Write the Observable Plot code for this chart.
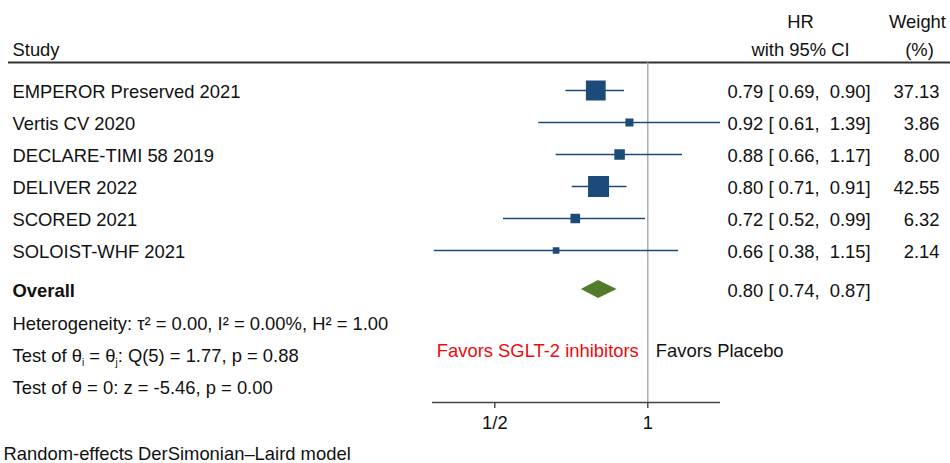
<!DOCTYPE html>
<html>
<head>
<meta charset="utf-8">
<script src="https://cdn.jsdelivr.net/npm/d3@7"></script>
<script src="https://cdn.jsdelivr.net/npm/@observablehq/plot@0.6"></script>
<style>
  html, body { margin: 0; padding: 0; background: #fff; }
</style>
</head>
<body>
<div id="chart"></div>
<script>
// ---- data ----
const studies = ["EMPEROR Preserved 2021", "Vertis CV 2020", "DECLARE-TIMI 58 2019", "DELIVER 2022", "SCORED 2021", "SOLOIST-WHF 2021"];
const hr      = [0.79, 0.92, 0.88, 0.80, 0.72, 0.66];
const ciLow   = [0.69, 0.61, 0.66, 0.71, 0.52, 0.38];
const ciHigh  = [0.90, 1.39, 1.17, 0.91, 0.99, 1.15];
const weights = [37.13, 3.86, 8.00, 42.55, 6.32, 2.14];
const overallLabel = "Overall";
const overallHR = 0.80, overallLow = 0.74, overallHigh = 0.87;
const statLines = [
  "Heterogeneity: τ² = 0.00, I² = 0.00%, H² = 1.00",
  "Test of θᵢ = θⱼ: Q(5) = 1.77, p = 0.88",
  "Test of θ = 0: z = -5.46, p = 0.00"
];
const favorsLeft = "Favors SGLT-2 inhibitors";
const favorsRight = "Favors Placebo";
const tickValues = [0.5, 1];
const tickLabels = ["1/2", "1"];
const footnote = "Random-effects DerSimonian–Laird model";

// ---- layout (row units) ----
const W = 950, H = 463;
const FS = 18.4;
const font = "'Liberation Sans', Arial, Helvetica, sans-serif";
const blue = "#1c4b79", green = "#527a2b";
const fmt = v => v.toFixed(2);
const ciText = (h, l, u) => `${fmt(h)} [ ${fmt(l)},  ${fmt(u)}]`;

const rows = studies.map((s, i) => ({
  study: s, hr: hr[i], lo: ciLow[i], hi: ciHigh[i], w: weights[i], row: i,
  label: ciText(hr[i], ciLow[i], ciHigh[i]), wlabel: fmt(weights[i])
}));
const overallRow = 6.22;
const diamondHalf = 0.28;
const diamond = [
  {x: overallLow,  y1: overallRow, y2: overallRow},
  {x: overallHR,   y1: overallRow - diamondHalf, y2: overallRow + diamondHalf},
  {x: overallHigh, y1: overallRow, y2: overallRow}
];
const stats = statLines.map((t, i) => ({t, row: 7.28 + i}));
const headerLineRow = -0.875, axisRow = 9.75;
const xDomain = [d3.min(ciLow) - 0.003, d3.max(ciHigh)];

const textBase = {fontSize: FS, fill: "#111", fontFamily: font};
const rowText = {...textBase, dy: 2};
const otherText = {...textBase, dy: 1};

const chart = Plot.plot({
  width: W, height: H,
  marginLeft: 0, marginRight: 0, marginTop: 0, marginBottom: H - 402,
  style: {fontFamily: font, fontSize: FS + "px", background: "#fff", color: "#111"},
  x: {type: "log", domain: xDomain, range: [432, 720], axis: null},
  y: {type: "linear", domain: [0, 1], range: [90, 122], axis: null},
  r: {type: "sqrt", domain: [0, d3.max(weights)], range: [0, 10.44]},
  marks: [
    // header texts
    Plot.text(["Study"], {frameAnchor: "left", dx: 12, y: -1.28, textAnchor: "start", ...otherText}),
    Plot.text(["HR"], {frameAnchor: "left", dx: 800, y: -2.16, textAnchor: "middle", ...otherText}),
    Plot.text(["with 95% CI"], {frameAnchor: "left", dx: 800, y: -1.28, textAnchor: "middle", ...otherText}),
    Plot.text(["Weight"], {frameAnchor: "left", dx: 917, y: -2.16, textAnchor: "middle", ...otherText}),
    Plot.text(["(%)"], {frameAnchor: "left", dx: 919, y: -1.28, textAnchor: "middle", ...otherText}),
    Plot.ruleY([headerLineRow], {insetLeft: 8, stroke: "#333", strokeWidth: 2}),
    // reference line at 1
    Plot.ruleX([1], {y1: headerLineRow, y2: axisRow, stroke: "#9a9a9a", strokeWidth: 1.2}),
    // axis line
    Plot.ruleY([axisRow], {x1: xDomain[0], x2: xDomain[1], stroke: "#444", strokeWidth: 1.4}),
    Plot.axisX({ticks: tickValues, tickFormat: d => tickLabels[tickValues.indexOf(d)],
      tickSize: 6, tickPadding: 7, fontSize: FS, stroke: "#444", strokeWidth: 1.4, fill: "#111", label: null}),
    // CIs and squares
    Plot.ruleY(rows, {y: "row", x1: "lo", x2: "hi", stroke: blue, strokeWidth: 1.6}),
    Plot.dot(rows, {x: "hr", y: "row", r: "w", symbol: "square", fill: blue, stroke: blue, strokeWidth: 2.5}),
    // overall diamond
    Plot.areaY(diamond, {x: "x", y1: "y1", y2: "y2", fill: green, curve: "linear"}),
    // study rows
    Plot.text(rows, {frameAnchor: "left", dx: 12, y: "row", text: "study", textAnchor: "start", ...rowText}),
    Plot.text(rows, {frameAnchor: "left", dx: 727, y: "row", text: "label", textAnchor: "start", ...rowText}),
    Plot.text(rows, {frameAnchor: "left", dx: 939, y: "row", text: "wlabel", textAnchor: "end", ...rowText}),
    Plot.text([overallLabel], {frameAnchor: "left", dx: 12, y: overallRow, textAnchor: "start", fontWeight: "bold", ...rowText}),
    Plot.text([ciText(overallHR, overallLow, overallHigh)], {frameAnchor: "left", dx: 727, y: overallRow, textAnchor: "start", ...rowText}),
    // stats
    Plot.text(stats, {frameAnchor: "left", dx: 12, y: "row", text: "t", textAnchor: "start", ...otherText}),
    // favors
    Plot.text([favorsLeft], {x: 1, y: 8.12, dx: -9, dy: 1, textAnchor: "end", fontSize: FS, fill: "#f00a0a", fontFamily: font}),
    Plot.text([favorsRight], {x: 1, y: 8.12, dx: 8, textAnchor: "start", ...otherText}),
    // footnote
    Plot.text([footnote], {frameAnchor: "left", dx: 3, y: 11.36, textAnchor: "start", ...textBase})
  ]
});

// render subscripts in "θᵢ = θⱼ" as real subscripts
chart.querySelectorAll("text").forEach(t => {
  if (!/[ᵢⱼ]/.test(t.textContent)) return;
  const s = t.textContent;
  while (t.firstChild) t.removeChild(t.firstChild);
  const parts = s.split(/([ᵢⱼ])/);
  const NS = "http://www.w3.org/2000/svg";
  parts.forEach(p => {
    if (!p) return;
    const span = document.createElementNS(NS, "tspan");
    if (p === "ᵢ" || p === "ⱼ") {
      span.textContent = p === "ᵢ" ? "i" : "j";
      span.setAttribute("font-size", "10");
      span.setAttribute("baseline-shift", "-4");
    } else {
      span.textContent = p;
    }
    t.appendChild(span);
  });
});

document.getElementById("chart").appendChild(chart);
</script>
</body>
</html>
